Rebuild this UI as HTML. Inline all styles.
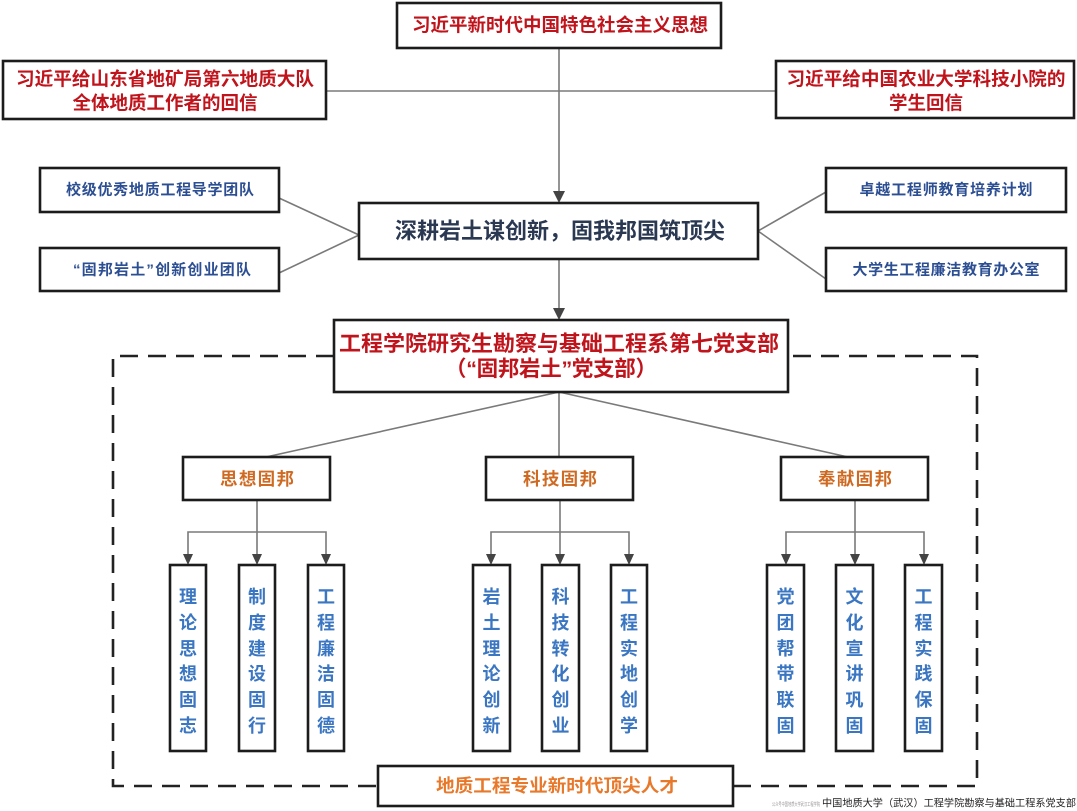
<!DOCTYPE html>
<html>
<head>
<meta charset="utf-8">
<style>
  html,body{margin:0;padding:0;background:#fff;}
  svg{display:block;}
  text{font-family:"Liberation Sans","Noto Sans CJK SC",sans-serif;font-weight:bold;dominant-baseline:central;text-anchor:middle;}
  .red{fill:#c0141c;}
  .blue{fill:#2c4e92;}
  .navy{fill:#2a3852;}
  .org{fill:#cf6a22;}
  .org2{fill:#e8782a;}
  .vb{fill:#3a76c2;}
  .box{fill:#fff;stroke:#1c1c1c;stroke-width:2.6;}
  .ln{stroke:#7a7a7a;stroke-width:1.6;fill:none;}
  .ar{fill:#444;}
</style>
</head>
<body>
<svg width="1077" height="811" viewBox="0 0 1077 811" xmlns="http://www.w3.org/2000/svg">
  <!-- connectors top -->
  <line class="ln" x1="326" y1="91" x2="776" y2="91"/>
  <line class="ln" x1="559" y1="48" x2="559" y2="193"/>
  <polygon class="ar" points="553,191 565,191 559,203"/>
  <line class="ln" x1="279" y1="198" x2="359" y2="235"/>
  <line class="ln" x1="279" y1="273" x2="359" y2="235"/>
  <line class="ln" x1="758" y1="231" x2="826" y2="192"/>
  <line class="ln" x1="758" y1="231" x2="826" y2="279"/>
  <line class="ln" x1="559" y1="259" x2="559" y2="310"/>
  <polygon class="ar" points="553,308 565,308 559,320"/>

  <!-- dashed frame -->
  <path d="M334,356 H113 V786 H378 M733,786 H977 V356 H788" fill="none" stroke="#222" stroke-width="2.6" stroke-dasharray="18,10"/>

  <!-- branch connectors -->
  <line class="ln" x1="559" y1="392" x2="266" y2="457"/>
  <line class="ln" x1="559" y1="392" x2="559" y2="457"/>
  <line class="ln" x1="559" y1="392" x2="848" y2="457"/>

  <!-- sub trees -->
  <g>
    <line class="ln" x1="257" y1="500" x2="257" y2="556"/>
    <polyline class="ln" points="188,556 188,532 326,532 326,556"/>
    <polygon class="ar" points="183,554 193,554 188,565"/>
    <polygon class="ar" points="252,554 262,554 257,565"/>
    <polygon class="ar" points="321,554 331,554 326,565"/>

    <line class="ln" x1="560" y1="500" x2="560" y2="556"/>
    <polyline class="ln" points="491,556 491,532 629,532 629,556"/>
    <polygon class="ar" points="486,554 496,554 491,565"/>
    <polygon class="ar" points="555,554 565,554 560,565"/>
    <polygon class="ar" points="624,554 634,554 629,565"/>

    <line class="ln" x1="855" y1="500" x2="855" y2="556"/>
    <polyline class="ln" points="786,556 786,532 924,532 924,556"/>
    <polygon class="ar" points="781,554 791,554 786,565"/>
    <polygon class="ar" points="850,554 860,554 855,565"/>
    <polygon class="ar" points="919,554 929,554 924,565"/>
  </g>

  <!-- top box -->
  <rect class="box" x="397" y="3" width="324" height="45"/>
  <text class="red" x="560" y="25" font-size="18.5" textLength="296" lengthAdjust="spacingAndGlyphs">习近平新时代中国特色社会主义思想</text>

  <!-- left red box -->
  <rect class="box" x="3" y="61" width="323" height="58"/>
  <text class="red" x="165" y="79" font-size="18.5" textLength="298" lengthAdjust="spacingAndGlyphs">习近平给山东省地矿局第六地质大队</text>
  <text class="red" x="165" y="103" font-size="18.5">全体地质工作者的回信</text>

  <!-- right red box -->
  <rect class="box" x="776" y="61" width="298" height="57"/>
  <text class="red" x="926" y="79" font-size="18.5" textLength="279" lengthAdjust="spacingAndGlyphs">习近平给中国农业大学科技小院的</text>
  <text class="red" x="926" y="103" font-size="18.5">学生回信</text>

  <!-- blue boxes -->
  <rect class="box" x="40" y="168" width="239" height="44"/>
  <text class="blue" x="160" y="190" font-size="15" textLength="188" lengthAdjust="spacing">校级优秀地质工程导学团队</text>
  <rect class="box" x="40" y="248" width="239" height="43"/>
  <text class="blue" x="162" y="270" font-size="15" textLength="178" lengthAdjust="spacing">“固邦岩土”创新创业团队</text>
  <rect class="box" x="826" y="168" width="240" height="44"/>
  <text class="blue" x="946" y="190" font-size="15" textLength="173" lengthAdjust="spacing">卓越工程师教育培养计划</text>
  <rect class="box" x="826" y="248" width="240" height="43"/>
  <text class="blue" x="946" y="270" font-size="15" textLength="187" lengthAdjust="spacing">大学生工程廉洁教育办公室</text>

  <!-- middle box -->
  <rect class="box" x="359" y="203" width="399" height="56"/>
  <text class="navy" x="560" y="231" font-size="22" textLength="330" lengthAdjust="spacingAndGlyphs">深耕岩土谋创新，固我邦国筑顶尖</text>

  <!-- branch box -->
  <rect class="box" x="334" y="320" width="454" height="72"/>
  <text class="red" x="559" y="344" font-size="21.5" textLength="440" lengthAdjust="spacingAndGlyphs">工程学院研究生勘察与基础工程系第七党支部</text>
  <text class="red" x="551" y="369" font-size="21.5" textLength="212" lengthAdjust="spacing">（“固邦岩土”党支部）</text>

  <!-- sub boxes -->
  <rect class="box" x="183" y="457" width="147" height="43"/>
  <text class="org" x="257" y="479" font-size="17.5" textLength="74" lengthAdjust="spacing">思想固邦</text>
  <rect class="box" x="486" y="457" width="147" height="43"/>
  <text class="org" x="560" y="479" font-size="17.5" textLength="74" lengthAdjust="spacing">科技固邦</text>
  <rect class="box" x="781" y="457" width="147" height="43"/>
  <text class="org" x="855" y="479" font-size="17.5" textLength="74" lengthAdjust="spacing">奉献固邦</text>

  <!-- vertical boxes -->
  <g>
    <rect class="box" x="170" y="565" width="36" height="186"/>
    <rect class="box" x="239" y="565" width="36" height="186"/>
    <rect class="box" x="308" y="565" width="36" height="186"/>
    <rect class="box" x="473" y="565" width="37" height="186"/>
    <rect class="box" x="542" y="565" width="37" height="186"/>
    <rect class="box" x="611" y="565" width="36" height="186"/>
    <rect class="box" x="767" y="565" width="37" height="186"/>
    <rect class="box" x="836" y="565" width="37" height="186"/>
    <rect class="box" x="905" y="565" width="37" height="186"/>
  </g>
  <g class="vb" font-size="18">
    <text class="vb" x="188" y="597">理</text><text class="vb" x="188" y="623">论</text><text class="vb" x="188" y="649">思</text><text class="vb" x="188" y="674">想</text><text class="vb" x="188" y="700">固</text><text class="vb" x="188" y="726">志</text>
    <text class="vb" x="257" y="597">制</text><text class="vb" x="257" y="623">度</text><text class="vb" x="257" y="649">建</text><text class="vb" x="257" y="674">设</text><text class="vb" x="257" y="700">固</text><text class="vb" x="257" y="726">行</text>
    <text class="vb" x="326" y="597">工</text><text class="vb" x="326" y="623">程</text><text class="vb" x="326" y="649">廉</text><text class="vb" x="326" y="674">洁</text><text class="vb" x="326" y="700">固</text><text class="vb" x="326" y="726">德</text>
    <text class="vb" x="491.5" y="597">岩</text><text class="vb" x="491.5" y="623">土</text><text class="vb" x="491.5" y="649">理</text><text class="vb" x="491.5" y="674">论</text><text class="vb" x="491.5" y="700">创</text><text class="vb" x="491.5" y="726">新</text>
    <text class="vb" x="560.5" y="597">科</text><text class="vb" x="560.5" y="623">技</text><text class="vb" x="560.5" y="649">转</text><text class="vb" x="560.5" y="674">化</text><text class="vb" x="560.5" y="700">创</text><text class="vb" x="560.5" y="726">业</text>
    <text class="vb" x="629" y="597">工</text><text class="vb" x="629" y="623">程</text><text class="vb" x="629" y="649">实</text><text class="vb" x="629" y="674">地</text><text class="vb" x="629" y="700">创</text><text class="vb" x="629" y="726">学</text>
    <text class="vb" x="785.5" y="597">党</text><text class="vb" x="785.5" y="623">团</text><text class="vb" x="785.5" y="649">帮</text><text class="vb" x="785.5" y="674">带</text><text class="vb" x="785.5" y="700">联</text><text class="vb" x="785.5" y="726">固</text>
    <text class="vb" x="854.5" y="597">文</text><text class="vb" x="854.5" y="623">化</text><text class="vb" x="854.5" y="649">宣</text><text class="vb" x="854.5" y="674">讲</text><text class="vb" x="854.5" y="700">巩</text><text class="vb" x="854.5" y="726">固</text>
    <text class="vb" x="923.5" y="597">工</text><text class="vb" x="923.5" y="623">程</text><text class="vb" x="923.5" y="649">实</text><text class="vb" x="923.5" y="674">践</text><text class="vb" x="923.5" y="700">保</text><text class="vb" x="923.5" y="726">固</text>
  </g>

  <!-- bottom box -->
  <rect class="box" x="378" y="766" width="355" height="40"/>
  <text class="org2" x="557" y="786" font-size="18" textLength="242" lengthAdjust="spacingAndGlyphs">地质工程专业新时代顶尖人才</text>

  <!-- footer -->
  <text x="796" y="805" font-size="5" fill="#999" style="font-weight:normal" textLength="48" lengthAdjust="spacingAndGlyphs">公众号中国地质大学武汉工程学院</text>
  <text x="949" y="804" font-size="10.2" fill="#222" style="font-weight:normal" textLength="254" lengthAdjust="spacingAndGlyphs">中国地质大学（武汉）工程学院勘察与基础工程系党支部</text>
</svg>
</body>
</html>
